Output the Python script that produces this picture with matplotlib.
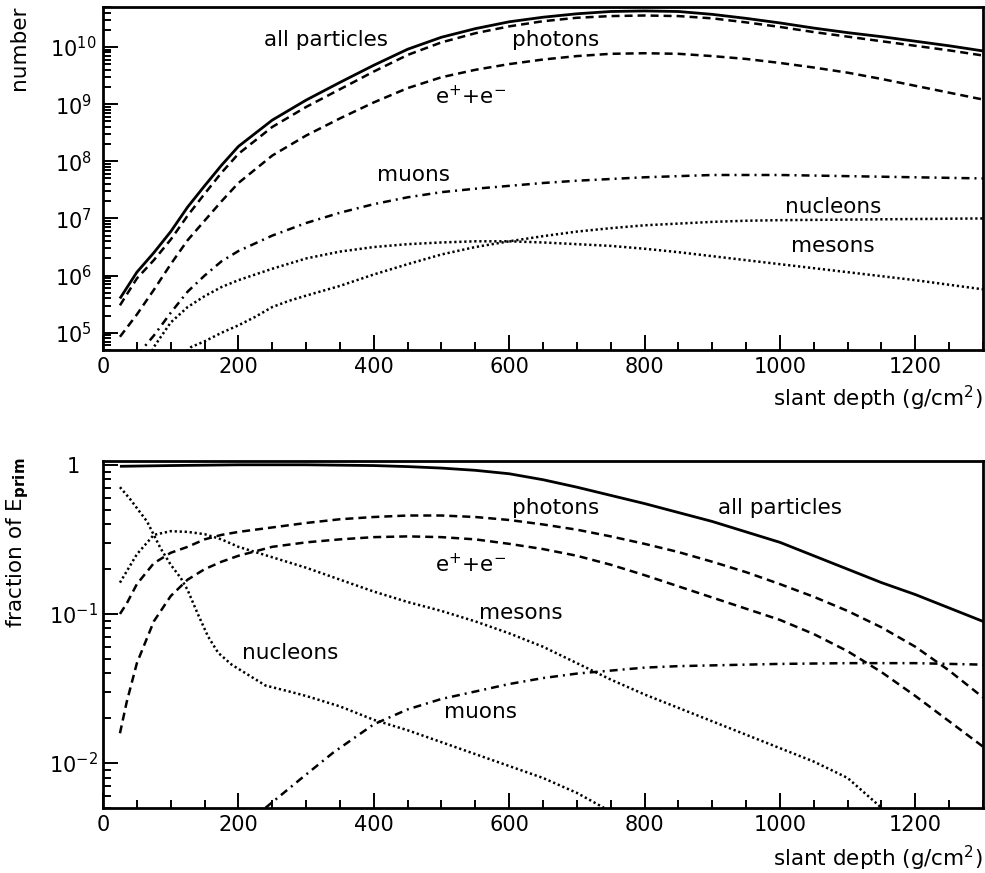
import matplotlib
matplotlib.use('Agg')
import matplotlib.pyplot as plt
import numpy as np
from matplotlib.ticker import FixedLocator, MultipleLocator, NullFormatter, LogLocator

plt.rcParams['font.family'] = ['DejaVu Sans']
plt.rcParams['mathtext.fontset'] = 'dejavusans'

# ---- upper panel: particle numbers (log10 of number) vs slant depth ----
d_all = [25, 50, 75, 100, 125, 150, 175, 200, 250, 300, 350, 400, 450, 500, 550, 600, 650, 700, 750,
         800, 850, 900, 950, 1000, 1050, 1100, 1150, 1200, 1250, 1300]
n_all = [5.6, 6.06, 6.4, 6.77, 7.2, 7.57, 7.93, 8.26, 8.72, 9.07, 9.38, 9.68, 9.96, 10.17, 10.32, 10.44,
         10.52, 10.58, 10.62, 10.63, 10.62, 10.57, 10.5, 10.42, 10.33, 10.25, 10.18, 10.1, 10.02, 9.93]
n_phot = [5.48, 5.95, 6.27, 6.63, 7.05, 7.43, 7.8, 8.13, 8.6, 8.95, 9.26, 9.57, 9.86, 10.08, 10.24, 10.36,
          10.45, 10.51, 10.54, 10.55, 10.54, 10.5, 10.43, 10.35, 10.26, 10.18, 10.1, 10.02, 9.94, 9.85]
n_elec = [4.93, 5.32, 5.75, 6.2, 6.62, 6.96, 7.3, 7.62, 8.1, 8.45, 8.75, 9.03, 9.28, 9.47, 9.6, 9.7,
          9.78, 9.84, 9.88, 9.89, 9.88, 9.84, 9.79, 9.72, 9.64, 9.55, 9.44, 9.32, 9.2, 9.08]

d_mu = [50, 75, 100, 125, 150, 175, 200, 250, 300, 350, 400, 450, 500, 550, 600, 650, 700, 750, 800,
        850, 900, 950, 1000, 1050, 1100, 1150, 1200, 1250, 1300]
n_mu = [4.6, 4.95, 5.35, 5.72, 6.0, 6.25, 6.43, 6.7, 6.92, 7.1, 7.25, 7.37, 7.46, 7.52, 7.57, 7.62, 7.66,
        7.69, 7.72, 7.74, 7.76, 7.76, 7.76, 7.75, 7.74, 7.73, 7.72, 7.71, 7.7]

d_mes = [70, 75, 100, 125, 150, 175, 200, 250, 300, 350, 400, 450, 500, 550, 600, 650, 700, 750, 800,
         850, 900, 950, 1000, 1050, 1100, 1150, 1200, 1250, 1300]
n_mes = [4.6, 4.75, 5.18, 5.45, 5.64, 5.8, 5.92, 6.12, 6.3, 6.42, 6.5, 6.55, 6.58, 6.6, 6.6, 6.58, 6.55,
         6.52, 6.47, 6.41, 6.34, 6.27, 6.2, 6.13, 6.06, 5.99, 5.92, 5.84, 5.76]

d_nuc = [120, 130, 150, 175, 200, 225, 250, 275, 300, 350, 400, 450, 500, 550, 600, 650, 700, 750, 800,
         850, 900, 950, 1000, 1100, 1200, 1300]
n_nuc = [4.6, 4.75, 4.85, 5.0, 5.13, 5.28, 5.45, 5.56, 5.65, 5.82, 6.02, 6.2, 6.37, 6.5, 6.6, 6.69,
         6.77, 6.83, 6.88, 6.91, 6.94, 6.96, 6.97, 6.98, 6.99, 7.0]

# ---- lower panel: energy fraction (log10) vs slant depth ----
e_d_all = [25, 100, 200, 300, 400, 450, 500, 550, 600, 650, 700, 750, 800, 850, 900, 950, 1000, 1050,
           1100, 1150, 1200, 1250, 1300]
e_all = [-0.01, -0.005, 0.0, 0.0, -0.005, -0.012, -0.022, -0.037, -0.06, -0.1, -0.15, -0.205, -0.26,
         -0.32, -0.38, -0.45, -0.52, -0.61, -0.7, -0.79, -0.87, -0.96, -1.05]

e_d = [25, 35, 50, 75, 100, 125, 150, 175, 200, 250, 300, 350, 400, 450, 500, 550, 600, 650, 700, 750,
       800, 850, 900, 950, 1000, 1050, 1100, 1150, 1200, 1250, 1300]
e_phot = [-1.0, -0.93, -0.8, -0.66, -0.59, -0.55, -0.5, -0.47, -0.45, -0.42, -0.39, -0.365, -0.35, -0.34,
          -0.34, -0.35, -0.37, -0.4, -0.435, -0.48, -0.53, -0.585, -0.65, -0.72, -0.8, -0.885, -0.98, -1.09,
          -1.22, -1.38, -1.56]
e_elec = [-1.8, -1.59, -1.33, -1.05, -0.88, -0.77, -0.7, -0.65, -0.61, -0.55, -0.52, -0.5, -0.485, -0.48,
          -0.485, -0.5, -0.53, -0.565, -0.61, -0.67, -0.74, -0.815, -0.89, -0.965, -1.04, -1.135, -1.25,
          -1.39, -1.55, -1.72, -1.89]

e_d_mes = [25, 50, 75, 100, 125, 150, 175, 200, 250, 300, 350, 400, 450, 500, 550, 600, 650, 700, 750,
           800, 850, 900, 950, 1000, 1050, 1100, 1150]
e_mes = [-0.79, -0.6, -0.47, -0.445, -0.45, -0.465, -0.5, -0.55, -0.62, -0.69, -0.77, -0.85, -0.92, -0.98,
         -1.05, -1.13, -1.22, -1.33, -1.44, -1.54, -1.63, -1.72, -1.81, -1.9, -1.99, -2.1, -2.3]

e_d_nuc = [25, 40, 50, 65, 75, 85, 100, 115, 125, 140, 155, 170, 190, 215, 240, 275, 300, 350, 400, 450,
           500, 550, 600, 650, 700, 740]
e_nuc = [-0.15, -0.23, -0.29, -0.38, -0.47, -0.56, -0.67, -0.76, -0.84, -1.0, -1.15, -1.26, -1.34, -1.41,
         -1.48, -1.52, -1.55, -1.62, -1.71, -1.78, -1.86, -1.94, -2.02, -2.1, -2.2, -2.3]

e_d_mu = [240, 291, 340, 400, 450, 500, 550, 600, 650, 700, 750, 800, 850, 900, 950, 1000, 1100, 1200, 1300]
e_mu = [-2.3, -2.11, -1.93, -1.74, -1.64, -1.57, -1.52, -1.47, -1.43, -1.4, -1.38, -1.36, -1.35, -1.345,
        -1.34, -1.335, -1.33, -1.33, -1.34]

solid = '-'
dashed = (0, (3.2, 2.0))
dashdot = (0, (3.2, 2.0, 0.8, 2.0))
dotted = (0, (0.9, 1.1))

fig = plt.figure(figsize=(9.85, 8.73), dpi=100)
ax1 = fig.add_axes([0.1046, 0.5991, 0.8934, 0.3929])
ax2 = fig.add_axes([0.1046, 0.0745, 0.8934, 0.3974])


def curve(ax, x, logy, ls, lw=1.8):
    ax.plot(x, 10 ** np.array(logy), color='black', linestyle=ls, linewidth=lw,
            dash_capstyle='butt', solid_capstyle='butt', solid_joinstyle='round')


curve(ax1, d_all, n_all, solid, 2.0)
curve(ax1, d_all, n_phot, dashed)
curve(ax1, d_all, n_elec, dashed)
curve(ax1, d_mu, n_mu, dashdot)
curve(ax1, d_mes, n_mes, dotted, 1.8)
curve(ax1, d_nuc, n_nuc, dotted, 1.8)

curve(ax2, e_d_all, e_all, solid, 2.0)
curve(ax2, e_d, e_phot, dashed)
curve(ax2, e_d, e_elec, dashed)
curve(ax2, e_d_mes, e_mes, dotted, 1.8)
curve(ax2, e_d_nuc, e_nuc, dotted, 1.8)
curve(ax2, e_d_mu, e_mu, dashdot)

fs = 15.5
top_labels = [(329, 10.12, 'all particles'), (669, 10.13, 'photons'), (543, 9.13, r'e$^{+}$+e$^{-}$'),
              (458, 7.76, 'muons'), (1078, 7.2, 'nucleons'), (1078, 6.52, 'mesons')]
for x, ly, s in top_labels:
    ax1.text(x, 10 ** ly, s, fontsize=fs, ha='center', va='center')

bot_labels = [(669, -0.29, 'photons'), (1000, -0.29, 'all particles'), (543, -0.67, r'e$^{+}$+e$^{-}$'),
              (617, -0.995, 'mesons'), (277, -1.26, 'nucleons'), (558, -1.66, 'muons')]
for x, ly, s in bot_labels:
    ax2.text(x, 10 ** ly, s, fontsize=fs, ha='center', va='center')

for ax in (ax1, ax2):
    ax.set_yscale('log')
    ax.set_xlim(0, 1300)
    ax.xaxis.set_major_locator(FixedLocator([0, 200, 400, 600, 800, 1000, 1200]))
    ax.xaxis.set_minor_locator(MultipleLocator(50))
    ax.yaxis.set_minor_locator(LogLocator(base=10, subs=np.arange(2, 10)))
    ax.yaxis.set_minor_formatter(NullFormatter())
    ax.tick_params(which='both', direction='in', top=False, right=False, width=1.4, labelsize=15)
    ax.tick_params(which='major', length=11)
    ax.tick_params(which='minor', length=6)
    ax.tick_params(axis='x', pad=5)
    ax.tick_params(axis='y', pad=21.5)
    for sp in ax.spines.values():
        sp.set_linewidth(2.0)

ax1.set_ylim(5e4, 5e10)
ax1.set_yticks([1e5, 1e6, 1e7, 1e8, 1e9, 1e10],
               [r'$10^{5}$', r'$10^{6}$', r'$10^{7}$', r'$10^{8}$', r'$10^{9}$', r'$10^{10}$'])
ax2.set_ylim(0.005, 1.06)
ax2.set_yticks([0.01, 0.1, 1], [r'$10^{-2}$', r'$10^{-1}$', '1'])

for ax in (ax1, ax2):
    for t in ax.yaxis.get_major_ticks():
        t.label1.set_horizontalalignment('center')

fig.text(19 / 985, 1 - 48 / 873, 'number', rotation=90, fontsize=fs, ha='center', va='center')
fig.text(18 / 985, 1 - 543 / 873, r'fraction of E$_{\mathbf{prim}}$', rotation=90, fontsize=fs,
         ha='center', va='center')
fig.text(983 / 985, 1 - 398 / 873, r'slant depth (g/cm$^{2}$)', fontsize=fs, ha='right', va='center')
fig.text(983 / 985, 1 - 858 / 873, r'slant depth (g/cm$^{2}$)', fontsize=fs, ha='right', va='center')

fig.savefig('out.png', dpi=100, facecolor='white')
